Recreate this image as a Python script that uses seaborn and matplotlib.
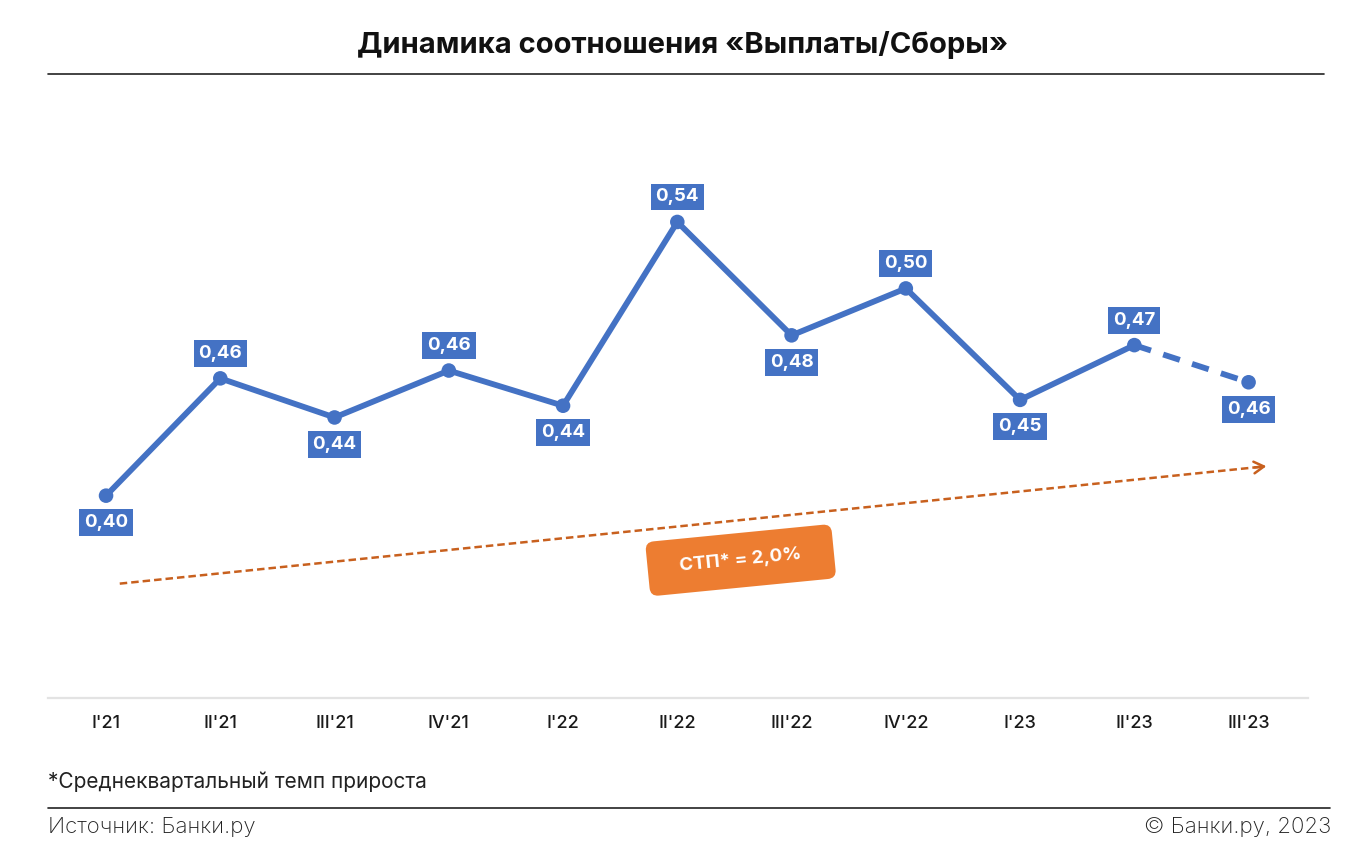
import matplotlib
matplotlib.use("Agg")
import matplotlib.pyplot as plt
import seaborn as sns
import pandas as pd
from matplotlib.lines import Line2D

# ---- data ----
quarters = ["I'21", "II'21", "III'21", "IV'21", "I'22", "II'22", "III'22", "IV'22", "I'23", "II'23", "III'23"]
ratio = [0.398, 0.458, 0.438, 0.462, 0.444, 0.538, 0.480, 0.504, 0.447, 0.475, 0.456]
ratio_labels = ["0,40", "0,46", "0,44", "0,46", "0,44", "0,54", "0,48", "0,50", "0,45", "0,47", "0,46"]
label_side = ["below", "above", "below", "above", "below", "above", "below", "above", "below", "above", "below"]
n_actual = 10  # last point is a forecast (dashed)
trend_start = (0.12, 0.353)
trend_end = (10.18, 0.4132)
trend_text = "СТП* = 2,0%"

title = "Динамика соотношения «Выплаты/Сборы»"
footnote = "*Среднеквартальный темп прироста"
source = "Источник: Банки.ру"
copyright_text = "© Банки.ру, 2023"

BLUE = "#4472C4"
ORANGE = "#ED7D31"
DARK_ORANGE = "#C8601E"

sns.set_theme(style="white")
plt.rcParams["font.family"] = ["Inter", "Noto Sans", "DejaVu Sans"]

df = pd.DataFrame({"x": range(len(quarters)), "q": quarters, "v": ratio})

fig = plt.figure(figsize=(13.66, 8.5), dpi=100)
W, H = 1366, 850
ax = fig.add_axes([48 / W, 1 - 698 / H, (1308 - 48) / W, (698 - 90) / H])

sns.lineplot(data=df.iloc[:n_actual], x="x", y="v", ax=ax, color=BLUE, linewidth=4.2)
sns.lineplot(data=df.iloc[n_actual - 1:], x="x", y="v", ax=ax, color=BLUE, linewidth=4.2,
             linestyle=(0, (3, 2.2)))
sns.scatterplot(data=df, x="x", y="v", ax=ax, color=BLUE, s=110, edgecolor="none", zorder=5)

for i, (v, lab, side) in enumerate(zip(ratio, ratio_labels, label_side)):
    dy = 25 if side == "above" else -27
    ax.annotate(lab, xy=(i, v), xytext=(0, dy * 0.72), textcoords="offset points",
                ha="center", va="center", color="white", fontsize=13.5, fontweight="bold",
                bbox=dict(boxstyle="square,pad=0.26", fc=BLUE, ec="none"), zorder=6)

# trend arrow
ax.plot([trend_start[0], trend_end[0] - 0.05], [trend_start[1], trend_end[1] - 0.0003],
        color=DARK_ORANGE, linewidth=1.8, linestyle=(0, (3, 1.6)))
ax.annotate("", xy=trend_end, xytext=(trend_end[0] - 0.15, trend_end[1] - 0.0009),
            arrowprops=dict(arrowstyle="->,head_length=0.6,head_width=0.35", color=DARK_ORANGE, lw=1.8))

# badge
ax.text(5.555, 0.365, "   " + trend_text + "   ", ha="center", va="center", rotation=5.6,
        rotation_mode="anchor", color="white", fontsize=13.5, fontweight="bold",
        bbox=dict(boxstyle="round,pad=1.0,rounding_size=0.45", fc=ORANGE, ec="none"), zorder=6)

ax.set_xlim(-0.508, 10.52)
ax.set_ylim(0.2945, 0.6055)
ax.set_xticks(range(len(quarters)))
ax.set_xticklabels(quarters, fontsize=13, fontweight="medium", color="#1a1a1a")
ax.tick_params(axis="x", length=0, pad=12)
ax.set_yticks([])
ax.set_xlabel("")
ax.set_ylabel("")
for s in ["top", "right", "left"]:
    ax.spines[s].set_visible(False)
ax.spines["bottom"].set_color("#E3E3E3")
ax.spines["bottom"].set_linewidth(1.6)

fig.text(683 / W, 1 - 45 / H, title, ha="center", va="center", fontsize=21, fontweight="bold", color="#111111")
fig.add_artist(Line2D([48 / W, 1324 / W], [1 - 74 / H, 1 - 74 / H], color="#222222", linewidth=1.2))
fig.text(48 / W, 1 - 782 / H, footnote, ha="left", va="center", fontsize=15, color="#222222")
fig.add_artist(Line2D([48 / W, 1330 / W], [1 - 808 / H, 1 - 808 / H], color="#222222", linewidth=1.2))
fig.text(48 / W, 1 - 827 / H, source, ha="left", va="center", fontsize=16, color="#222222", fontweight="light")
fig.text(1331 / W, 1 - 827 / H, copyright_text, ha="right", va="center", fontsize=16, color="#222222", fontweight="light")

fig.savefig("out.png", dpi=100, facecolor="white")
